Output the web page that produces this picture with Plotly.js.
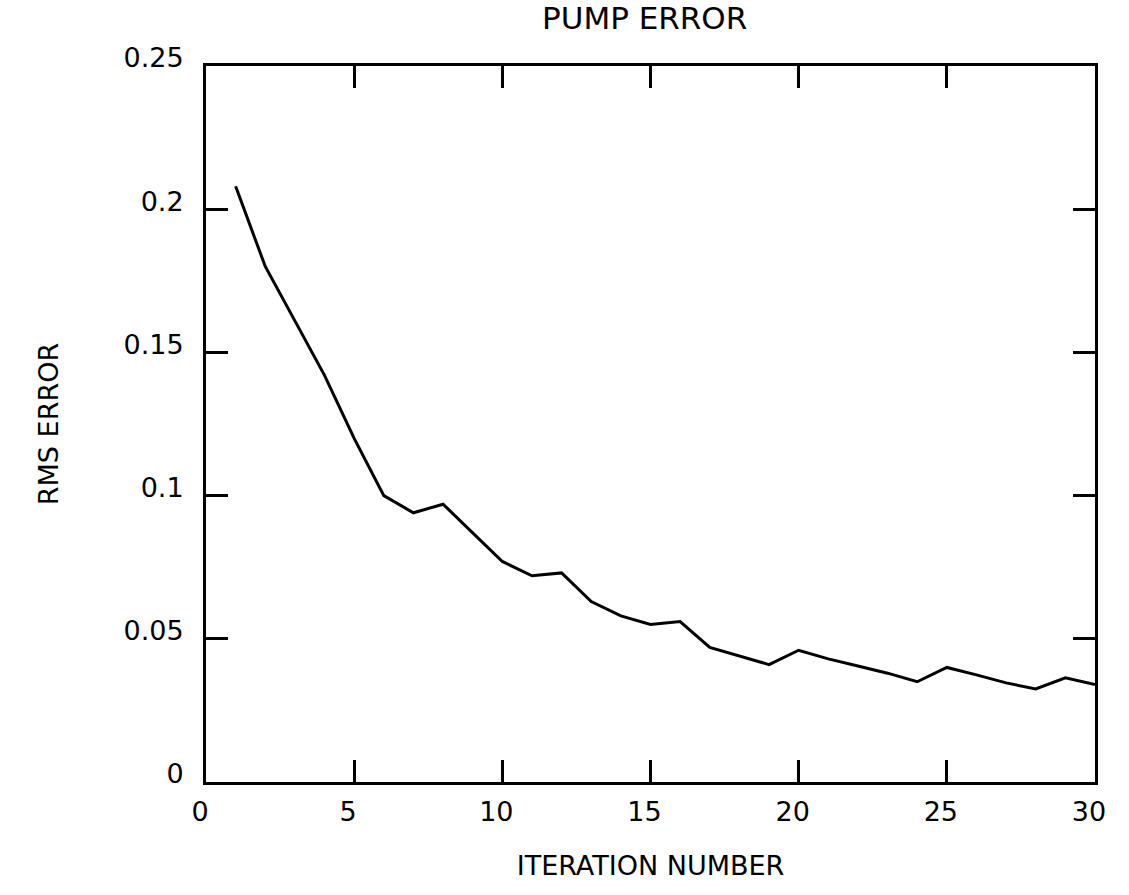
<!DOCTYPE html>
<html>
<head>
<meta charset="utf-8">
<script src="https://cdn.plot.ly/plotly-3.0.1.min.js"></script>
<style>
  body { margin: 0; background: #fff; }
  #plot { width: 1129px; height: 895px; }
</style>
</head>
<body>
<div id="plot"></div>
<script>
// iteration number vs rms error
let iterations = [1, 2, 3, 4, 5, 6, 7, 8, 9, 10,
                  11, 12, 13, 14, 15, 16, 17, 18, 19, 20,
                  21, 22, 23, 24, 25, 26, 27, 28, 29, 30];
let rmsError = [0.208, 0.180, 0.161, 0.142, 0.120, 0.100, 0.094, 0.097, 0.087, 0.077,
                0.072, 0.073, 0.063, 0.058, 0.055, 0.056, 0.047, 0.044, 0.041, 0.046,
                0.043, 0.0405, 0.038, 0.035, 0.040, 0.0374, 0.0346, 0.0325, 0.0364, 0.034];

let xTicks = [0, 5, 10, 15, 20, 25, 30];
let yTicks = [0, 0.05, 0.1, 0.15, 0.2, 0.25];
let yTickText = ['0', '0.05', '0.1', '0.15', '0.2', '0.25'];

let font = 'DejaVu Sans, sans-serif';

let trace = {
    x: iterations,
    y: rmsError,
    type: 'scatter',
    mode: 'lines',
    line: {color: '#000', width: 3},
    showlegend: false
};

let axisCommon = {
    showgrid: false,
    zeroline: false,
    showline: true,
    linecolor: '#000',
    linewidth: 3,
    mirror: 'ticks',
    ticks: 'inside',
    ticklen: 22,
    tickwidth: 3,
    tickcolor: '#000',
    tickfont: {family: font, size: 27, color: '#000'}
};

let layout = {
    width: 1129,
    height: 895,
    paper_bgcolor: '#fff',
    plot_bgcolor: '#fff',
    margin: {l: 206, r: 34, t: 66, b: 113},
    title: {
        text: 'PUMP ERROR',
        font: {family: font, size: 31, color: '#000'},
        x: 0.571,
        xanchor: 'center',
        y: 0.992,
        yanchor: 'top'
    },
    xaxis: Object.assign({}, axisCommon, {
        range: [0, 30],
        tickvals: xTicks,
        ticktext: xTicks.map(String),
        ticklabelshift: -6,
        ticklabelstandoff: 4,
        title: {text: 'ITERATION NUMBER', standoff: 30,
                font: {family: font, size: 27, color: '#000'}}
    }),
    yaxis: Object.assign({}, axisCommon, {
        range: [0, 0.25],
        tickvals: yTicks,
        ticktext: yTickText,
        ticklabelshift: -8,
        ticklabelstandoff: 14,
        title: {text: 'RMS ERROR', standoff: 58,
                font: {family: font, size: 27, color: '#000'}}
    })
};

Plotly.newPlot('plot', [trace], layout, {displayModeBar: false, staticPlot: true});
</script>
</body>
</html>
